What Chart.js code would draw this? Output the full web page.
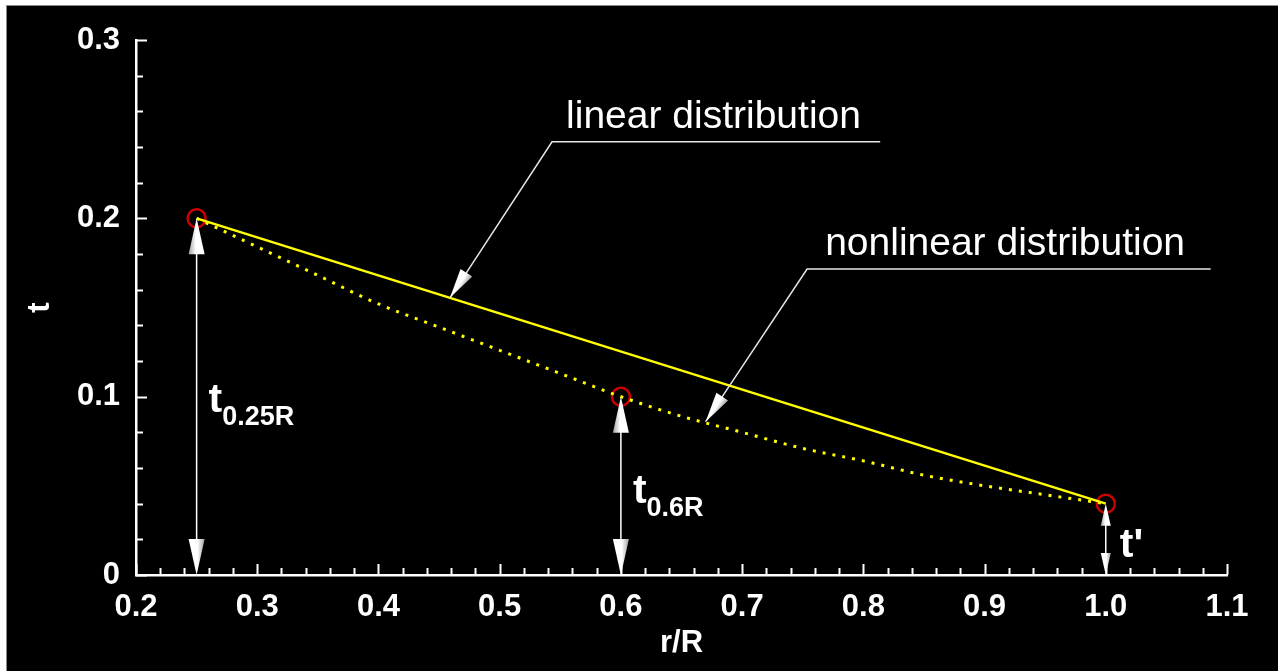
<!DOCTYPE html>
<html>
<head>
<meta charset="utf-8">
<script src="https://cdn.jsdelivr.net/npm/chart.js@4.4.1/dist/chart.umd.min.js"></script>
<style>
  html, body { margin: 0; padding: 0; background: #fff; }
  canvas { display: block; }
</style>
</head>
<body>
<canvas id="myChart" width="1278" height="671"></canvas>
<script>
// valores
const rNonlinear = [0.25, 0.30, 0.35, 0.40, 0.45, 0.50, 0.55, 0.60, 0.65, 0.70, 0.75, 0.80, 0.85, 0.90, 0.95, 1.00];
const tNonlinear = [0.200, 0.184, 0.168, 0.152, 0.139, 0.126, 0.113, 0.100, 0.089, 0.080, 0.071, 0.064, 0.056, 0.050, 0.045, 0.040];

const rLinear = [0.25, 1.00];
const tLinear = [0.20, 0.04];

// pontos marcados (círculos vermelhos)
const rStations = [0.25, 0.6, 1.0];
const tStations = [0.20, 0.10, 0.04];
const stationMain = ["t", "t", "t'"];
const stationSub = ["0.25R", "0.6R", ""];

// textos das chamadas
const calloutText = ["linear distribution", "nonlinear distribution"];

const FONT = '"Liberation Sans", Arial, sans-serif';

// posições das anotações (unidades do gráfico)
const stationLabelT = [0.0914, 0.0404, 0.0101];
const stationLabelGap = [12, 12, 14];
const callouts = [
  { tip: [0.459, 0.1554], elbow: [0.5432, 0.2429], endR: 0.8139, textAt: [0.5548, 0.2507] },
  { tip: [0.6699, 0.0860], elbow: [0.7536, 0.1716], endR: 1.0865, textAt: [0.7685, 0.1795] },
];

// seta em forma de cone
function cone(ctx, tipX, tipY, fromX, fromY, len, half) {
  const a = Math.atan2(tipY - fromY, tipX - fromX);
  const bx = tipX - len * Math.cos(a), by = tipY - len * Math.sin(a);
  const px = -Math.sin(a) * half, py = Math.cos(a) * half;
  ctx.beginPath();
  ctx.moveTo(tipX, tipY);
  ctx.lineTo(bx + px, by + py);
  ctx.lineTo(bx - px, by - py);
  ctx.closePath();
  const g = ctx.createLinearGradient(bx + px, by + py, bx - px, by - py);
  g.addColorStop(0, "#ffffff");
  g.addColorStop(0.55, "#ffffff");
  g.addColorStop(1, "#a0a0a0");
  ctx.fillStyle = g;
  ctx.fill();
}

const background = {
  id: "background",
  beforeDraw(chart) {
    const { ctx, width, height } = chart;
    ctx.save();
    ctx.fillStyle = "#ffffff";
    ctx.fillRect(0, 0, width, height);
    ctx.fillStyle = "#000000";
    ctx.fillRect(7, 6, width - 7, height - 6);
    ctx.strokeStyle = "#8a8a8a";
    ctx.lineWidth = 1;
    ctx.strokeRect(6.5, 5.5, width, height);
    ctx.restore();
  },
};

const overlay = {
  id: "overlay",
  afterDraw(chart) {
    const { ctx, scales: { x, y } } = chart;
    ctx.save();

    // ticks para dentro
    ctx.strokeStyle = "#ffffff";
    ctx.lineWidth = 2;
    const y0 = y.getPixelForValue(0);
    const x0 = x.getPixelForValue(0.2);
    for (let i = 0; i <= 45; i++) {
      const px = Math.round(x.getPixelForValue(0.2 + i * 0.02)) + 0.5;
      const len = i % 5 === 0 ? 11 : 7;
      ctx.beginPath();
      ctx.moveTo(px, y0);
      ctx.lineTo(px, y0 - len);
      ctx.stroke();
    }
    for (let i = 0; i <= 15; i++) {
      const py = Math.round(y.getPixelForValue(i * 0.02)) + 0.5;
      const len = i % 5 === 0 ? 11 : 7;
      ctx.beginPath();
      ctx.moveTo(x0, py);
      ctx.lineTo(x0 + len, py);
      ctx.stroke();
    }

    // cotas verticais
    rStations.forEach((r, i) => {
      const px = x.getPixelForValue(r);
      const top = y.getPixelForValue(tStations[i]);
      const bot = y.getPixelForValue(0);
      const len = i === 2 ? 22 : 36;
      const half = i === 2 ? 5 : 8;
      ctx.strokeStyle = "#ffffff";
      ctx.lineWidth = 1.5;
      ctx.beginPath();
      ctx.moveTo(px, top + len / 2);
      ctx.lineTo(px, bot - len / 2);
      ctx.stroke();
      cone(ctx, px, top, px, bot, len, half);
      cone(ctx, px, bot, px, top, len, half);

      const lx = px + stationLabelGap[i];
      const ly = y.getPixelForValue(stationLabelT[i]);
      ctx.fillStyle = "#ffffff";
      ctx.textAlign = "left";
      ctx.textBaseline = "alphabetic";
      ctx.font = "bold 41px " + FONT;
      ctx.fillText(stationMain[i], lx, ly);
      const w = ctx.measureText(stationMain[i]).width;
      ctx.font = "bold 27px " + FONT;
      ctx.fillText(stationSub[i], lx + w, ly + 13);
    });

    // chamadas
    callouts.forEach((c, i) => {
      const tx = x.getPixelForValue(c.tip[0]), ty = y.getPixelForValue(c.tip[1]);
      const ex = x.getPixelForValue(c.elbow[0]), ey = y.getPixelForValue(c.elbow[1]);
      const rx = x.getPixelForValue(c.endR);
      ctx.strokeStyle = "#e6e6e6";
      ctx.lineWidth = 1.5;
      ctx.beginPath();
      ctx.moveTo(rx, ey);
      ctx.lineTo(ex, ey);
      ctx.lineTo(tx, ty);
      ctx.stroke();
      cone(ctx, tx, ty, ex, ey, 30, 7);

      ctx.fillStyle = "#ffffff";
      ctx.font = "39px " + FONT;
      ctx.textAlign = "left";
      ctx.textBaseline = "alphabetic";
      ctx.fillText(calloutText[i], x.getPixelForValue(c.textAt[0]), y.getPixelForValue(c.textAt[1]));
    });

    ctx.restore();
  },
};

const data = {
  datasets: [
    {
      label: "nonlinear distribution",
      data: rNonlinear.map((r, i) => ({ x: r, y: tNonlinear[i] })),
      borderColor: "#ffff00",
      borderWidth: 3,
      borderDash: [3, 7],
      pointRadius: 0,
      cubicInterpolationMode: "monotone",
      fill: false,
      order: 2,
    },
    {
      label: "linear distribution",
      data: rLinear.map((r, i) => ({ x: r, y: tLinear[i] })),
      borderColor: "#ffff00",
      borderWidth: 2.5,
      pointRadius: 0,
      fill: false,
      order: 1,
    },
    {
      label: "stations",
      data: rStations.map((r, i) => ({ x: r, y: tStations[i] })),
      showLine: false,
      pointRadius: 9,
      pointBorderWidth: 2.5,
      pointBorderColor: "#cc0000",
      pointBackgroundColor: "rgba(0,0,0,0)",
      order: 3,
    },
  ],
};

const tickFont = { family: FONT, size: 31, weight: "bold" };

const config = {
  type: "line",
  data: data,
  plugins: [background, overlay],
  options: {
    responsive: false,
    animation: false,
    layout: { padding: { left: 0, top: 40, right: 51, bottom: 0 } },
    plugins: { legend: { display: false }, tooltip: { enabled: false } },
    elements: { line: { tension: 0 } },
    scales: {
      x: {
        type: "linear",
        min: 0.2,
        max: 1.1,
        border: { display: true, color: "#ffffff", width: 2.5 },
        grid: { display: false, drawTicks: false },
        ticks: {
          stepSize: 0.1,
          color: "#ffffff",
          font: tickFont,
          padding: 14,
          maxRotation: 0,
          autoSkip: false,
          callback: (v) => v.toFixed(1),
        },
        title: {
          display: true,
          text: "r/R",
          color: "#ffffff",
          font: { family: FONT, size: 31, weight: "bold" },
          padding: { top: 0, bottom: 9 },
        },
        afterFit: (s) => { s.height = 96; },
      },
      y: {
        type: "linear",
        min: 0,
        max: 0.3,
        border: { display: true, color: "#ffffff", width: 2.5 },
        grid: { display: false, drawTicks: false },
        ticks: {
          stepSize: 0.1,
          color: "#ffffff",
          font: tickFont,
          padding: 16,
          callback: (v) => (v === 0 ? "0" : v.toFixed(1)),
        },
        title: {
          display: true,
          text: "t",
          color: "#ffffff",
          font: { family: FONT, size: 31, weight: "bold" },
          padding: { top: 22, bottom: 0 },
        },
        afterFit: (s) => { s.width = 136; },
      },
    },
  },
};

const ctx = document.getElementById("myChart").getContext("2d");
new Chart(ctx, config);
</script>
</body>
</html>
